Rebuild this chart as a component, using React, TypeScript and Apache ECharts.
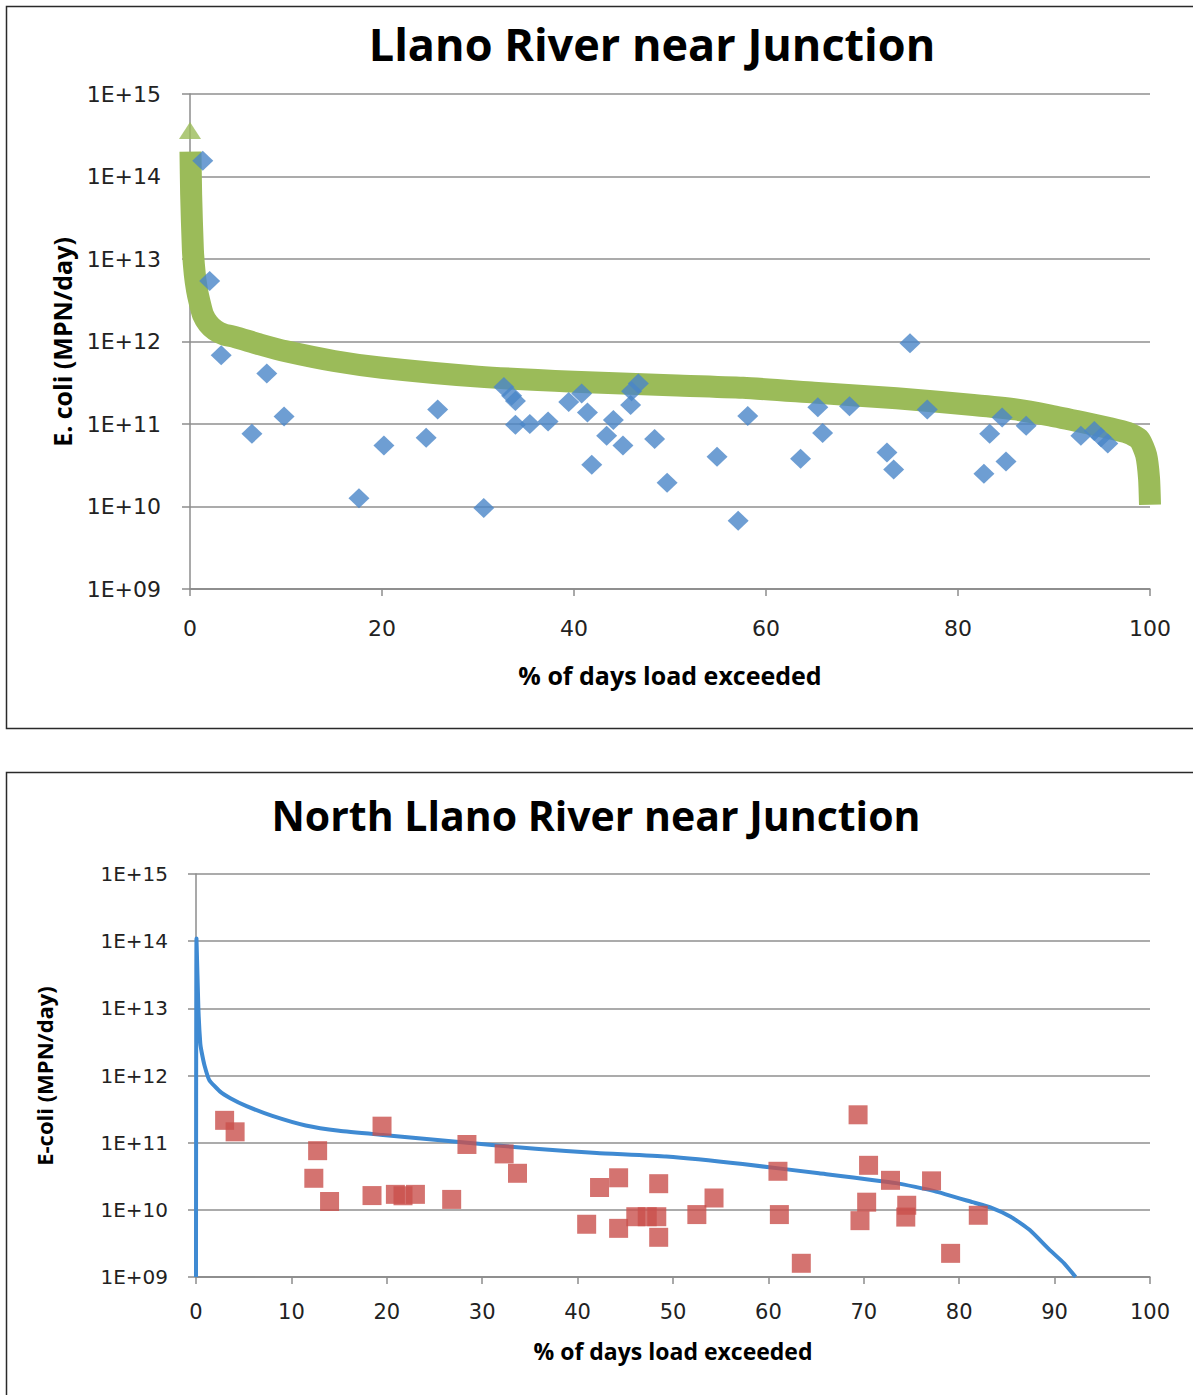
import React, { useEffect, useRef } from "react";
import * as echarts from "echarts";

// ---- Llano River near Junction (top) ----
const llanoCurvePct = [0.05, 0.12, 0.3, 0.5, 0.73, 1.0, 1.36, 1.9, 2.6, 3.5, 4.7, 7.3, 10, 15, 20, 30, 40, 50, 57.6, 65, 73.6, 81.6, 86, 89.6, 93, 95.6, 97.7, 98.9, 99.6, 99.9, 100];
const llanoCurveLoad = [2.0e14, 6e13, 1.3e13, 6.5e12, 4.2e12, 3.0e12, 2.1e12, 1.65e12, 1.38e12, 1.22e12, 1.13e12, 9.2e11, 7.6e11, 5.8e11, 4.8e11, 3.75e11, 3.25e11, 2.95e11, 2.75e11, 2.4e11, 2.05e11, 1.7e11, 1.5e11, 1.27e11, 1.05e11, 9.0e10, 7.8e10, 6.5e10, 4.2e10, 2.2e10, 1.05e10];
const llanoPeakPct = [0];
const llanoPeakLoad = [3.6e14];
const llanoSamplePct = [1.33, 2.05, 3.25, 6.45, 8.0, 9.8, 17.6, 20.2, 24.6, 25.8, 30.6, 32.7, 33.5, 33.9, 33.9, 35.4, 37.3, 39.45, 40.8, 41.4, 41.85, 43.4, 44.1, 45.1, 45.9, 46.0, 46.7, 48.4, 49.7, 54.9, 57.1, 58.1, 63.6, 65.4, 65.9, 68.7, 72.6, 73.3, 75.0, 76.8, 82.7, 83.3, 84.6, 85.0, 87.1, 92.8, 94.2, 94.9, 95.6];
const llanoSampleLoad = [1.55e14, 5.4e12, 6.8e11, 7.6e10, 4.1e11, 1.23e11, 1.26e10, 5.5e10, 6.8e10, 1.5e11, 9.6e9, 2.8e11, 2.2e11, 1.9e11, 9.8e10, 1.0e11, 1.07e11, 1.85e11, 2.35e11, 1.38e11, 3.2e10, 7.2e10, 1.12e11, 5.5e10, 1.7e11, 2.5e11, 3.1e11, 6.6e10, 1.94e10, 4.0e10, 6.7e9, 1.25e11, 3.8e10, 1.6e11, 7.8e10, 1.64e11, 4.5e10, 2.8e10, 9.5e11, 1.5e11, 2.5e10, 7.6e10, 1.2e11, 3.5e10, 9.5e10, 7.2e10, 8.2e10, 6.9e10, 5.8e10];

// ---- North Llano River near Junction (bottom) ----
const northCurvePct = [0, 0.05, 0.25, 0.45, 0.6, 0.9, 1.4, 2.5, 3.6, 5.3, 8, 11.5, 15, 19.6, 27.6, 35.6, 42, 49.3, 57.3, 65.3, 73.4, 77.4, 81.4, 83.4, 85.4, 87.4, 89.4, 91, 92.2];
const northCurveLoad = [1e9, 1.1e14, 1e13, 3e12, 2.2e12, 1.4e12, 8.5e11, 5.8e11, 4.6e11, 3.5e11, 2.5e11, 1.8e11, 1.5e11, 1.3e11, 1.02e11, 8.1e10, 7.0e10, 6.2e10, 4.8e10, 3.5e10, 2.5e10, 1.9e10, 1.3e10, 1.07e10, 7.9e9, 5.0e9, 2.6e9, 1.6e9, 1.0e9];
const northSamplePct = [3.0, 4.1, 12.35, 12.75, 14.0, 18.45, 19.5, 20.9, 21.7, 23.0, 26.8, 28.4, 32.3, 33.7, 40.95, 42.3, 44.3, 44.3, 46.1, 47.3, 48.3, 48.5, 48.5, 52.5, 54.3, 61.0, 61.15, 63.45, 69.4, 69.6, 70.3, 70.5, 72.8, 74.4, 74.5, 77.1, 79.1, 82.0];
const northSampleLoad = [2.15e11, 1.45e11, 2.95e10, 7.6e10, 1.33e10, 1.63e10, 1.76e11, 1.7e10, 1.62e10, 1.7e10, 1.43e10, 9.4e10, 6.8e10, 3.5e10, 6.1e9, 2.15e10, 3.0e10, 5.3e9, 7.9e9, 7.9e9, 7.9e9, 2.45e10, 3.9e9, 8.5e9, 1.5e10, 3.75e10, 8.5e9, 1.6e9, 2.6e11, 6.9e9, 1.3e10, 4.6e10, 2.75e10, 7.8e9, 1.17e10, 2.7e10, 2.25e9, 8.3e9];

// ---- axes / texts ----
const logTickLabels = ["1E+09", "1E+10", "1E+11", "1E+12", "1E+13", "1E+14", "1E+15"];
const titles = ["Llano River near Junction", "North Llano River near Junction"];
const xAxisTitles = ["% of days load exceeded", "% of days load exceeded"];
const yAxisTitles = ["E. coli (MPN/day)", "E-coli (MPN/day)"];

const TITLE_FONT = "'Open Sans', Lato, sans-serif";
const TICK_FONT = "'DejaVu Sans', 'Open Sans', sans-serif";
const zip = (xs: number[], ys: number[]) => xs.map((x, i) => [x, ys[i]]);

function makeXAxis(gridIndex: number, interval: number, margin: number, fontSize: number) {
  return {
    gridIndex,
    type: "value",
    min: 0,
    max: 100,
    interval,
    axisLine: { show: true, onZero: false, lineStyle: { color: "#8c8c8c", width: 1.5 } },
    axisTick: { show: true, length: 7, lineStyle: { color: "#8c8c8c", width: 1.5 } },
    splitLine: { show: false },
    axisLabel: { fontSize, color: "#222", fontFamily: TICK_FONT, margin },
  };
}

function makeYAxis(gridIndex: number, margin: number, fontSize: number) {
  return {
    gridIndex,
    type: "log",
    logBase: 10,
    min: 1e9,
    max: 1e15,
    splitNumber: 6,
    axisLine: { show: true, lineStyle: { color: "#8c8c8c", width: 1.5 } },
    axisTick: { show: true, length: 8, lineStyle: { color: "#8c8c8c", width: 1.5 } },
    splitLine: { show: true, lineStyle: { color: "#8f8f8f", width: 1.5 } },
    axisLabel: {
      fontSize,
      color: "#222",
      fontFamily: TICK_FONT,
      margin,
      formatter: (v: number) => logTickLabels[Math.round(Math.log10(v)) - 9] ?? "",
    },
  };
}

function textEl(text: string, x: number, y: number, fontSize: number, rotation = 0) {
  return {
    type: "text",
    x,
    y,
    rotation,
    silent: true,
    style: {
      text,
      fill: "#000",
      fontSize,
      fontWeight: "bold",
      fontFamily: TITLE_FONT,
      align: "center",
      verticalAlign: "middle",
      textAlign: "center",
      textVerticalAlign: "middle",
    },
  };
}

export default function App() {
  const ref = useRef<HTMLDivElement>(null);
  useEffect(() => {
    if (!ref.current) return;
    const chart = echarts.init(ref.current, undefined, { renderer: "svg" });
    chart.setOption({
      animation: false,
      backgroundColor: "#ffffff",
      grid: [
        { left: 190, top: 94, width: 960, height: 495 },
        { left: 196, top: 874, width: 954, height: 403 },
      ],
      xAxis: [makeXAxis(0, 20, 28, 22), makeXAxis(1, 10, 24, 21)],
      yAxis: [makeYAxis(0, 29, 22), makeYAxis(1, 28, 20)],
      graphic: [
        { type: "rect", silent: true, shape: { x: 6.5, y: 6.5, width: 1200, height: 722 }, style: { fill: "none", stroke: "#2a2a2a", lineWidth: 1.5 } },
        { type: "rect", silent: true, shape: { x: 6.5, y: 772.5, width: 1200, height: 700 }, style: { fill: "none", stroke: "#2a2a2a", lineWidth: 1.5 } },
        textEl(titles[0], 652, 43, 45),
        textEl(titles[1], 596, 815, 41),
        textEl(xAxisTitles[0], 670, 675, 25),
        textEl(xAxisTitles[1], 673, 1351, 23),
        textEl(yAxisTitles[0], 62, 342, 25, Math.PI / 2),
        textEl(yAxisTitles[1], 44, 1076, 22, Math.PI / 2),
      ],
      series: [
        {
          name: "Llano load duration",
          type: "line",
          xAxisIndex: 0,
          yAxisIndex: 0,
          data: zip(llanoCurvePct, llanoCurveLoad),
          showSymbol: false,
          smooth: 0.2,
          lineStyle: { color: "#9BBB59", width: 22, cap: "butt", join: "round" },
          z: 2,
        },
        {
          name: "Llano peak",
          type: "scatter",
          xAxisIndex: 0,
          yAxisIndex: 0,
          data: zip(llanoPeakPct, llanoPeakLoad),
          symbol: "triangle",
          symbolSize: [22, 17],
          itemStyle: { color: "#9BBB59" },
          z: 3,
        },
        {
          name: "Llano samples",
          type: "scatter",
          xAxisIndex: 0,
          yAxisIndex: 0,
          data: zip(llanoSamplePct, llanoSampleLoad),
          symbol: "diamond",
          symbolSize: [21, 20],
          itemStyle: { color: "#4A86C8" },
          z: 4,
        },
        {
          name: "North Llano load duration",
          type: "line",
          xAxisIndex: 1,
          yAxisIndex: 1,
          data: zip(northCurvePct, northCurveLoad),
          showSymbol: false,
          smooth: 0.15,
          lineStyle: { color: "#3F8AD2", width: 4, join: "round" },
          z: 2,
        },
        {
          name: "North Llano samples",
          type: "scatter",
          xAxisIndex: 1,
          yAxisIndex: 1,
          data: zip(northSamplePct, northSampleLoad),
          symbol: "rect",
          symbolSize: [19, 19],
          itemStyle: { color: "#C9504C" },
          z: 4,
        },
      ],
    });
    return () => chart.dispose();
  }, []);
  return (
    <div
      ref={ref}
      style={{ position: "absolute", left: 0, top: 0, width: 1193, height: 1395, background: "#fff" }}
    />
  );
}
